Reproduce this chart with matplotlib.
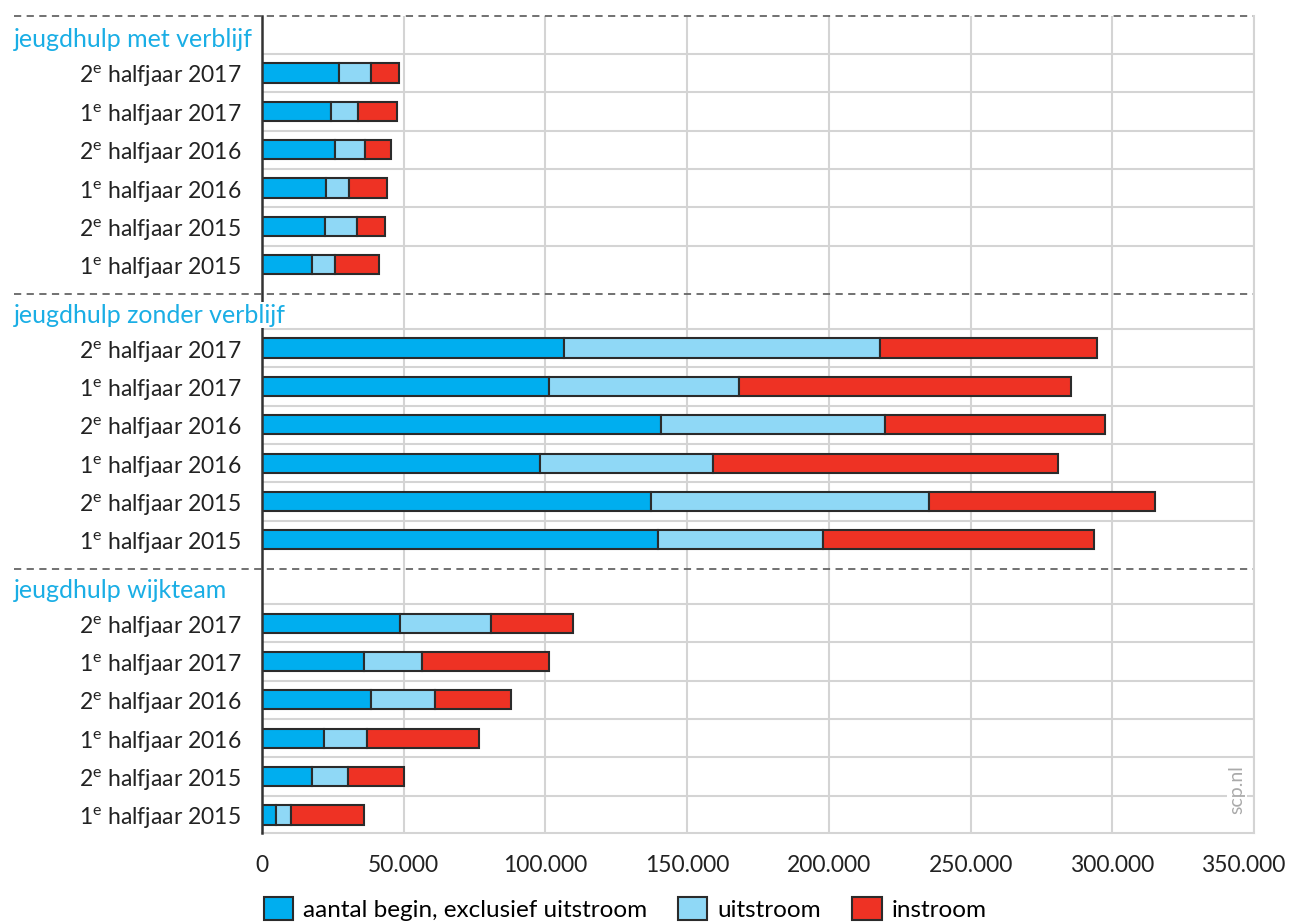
import matplotlib
matplotlib.use("Agg")
import matplotlib.pyplot as plt
from matplotlib.patches import Patch
from matplotlib.transforms import blended_transform_factory, ScaledTranslation

plt.rcParams['font.family'] = ['Lato', 'DejaVu Sans']
plt.rcParams['mathtext.default'] = 'regular'

# ---------------- data ----------------
groups = ["jeugdhulp met verblijf", "jeugdhulp zonder verblijf", "jeugdhulp wijkteam"]
periods = ["2$^{e}$ halfjaar 2017", "1$^{e}$ halfjaar 2017",
           "2$^{e}$ halfjaar 2016", "1$^{e}$ halfjaar 2016",
           "2$^{e}$ halfjaar 2015", "1$^{e}$ halfjaar 2015"]
series = ["aantal begin, exclusief uitstroom", "uitstroom", "instroom"]

begin_met = [27000, 24300, 25900, 22700, 22100, 17600]
uit_met = [11500, 9500, 10300, 8100, 11300, 8200]
in_met = [10000, 14000, 9400, 13400, 10000, 15600]

begin_zonder = [106600, 101300, 140700, 98200, 137400, 139600]
uit_zonder = [111500, 67100, 79200, 60900, 98000, 58300]
in_zonder = [76600, 116900, 77500, 121900, 79800, 95700]

begin_wijk = [48700, 36000, 38500, 21800, 17600, 4800]
uit_wijk = [32100, 20500, 22700, 15100, 12700, 5400]
in_wijk = [29100, 44900, 26600, 39500, 19700, 25800]

xticks = [0, 50000, 100000, 150000, 200000, 250000, 300000, 350000]

# ---------------- styling ----------------
colors = ["#00aeef", "#8fd8f6", "#ee3224"]
edge = "#2b2b2b"
header_color = "#1aaee5"
grid_color = "#d4d4d4"
FS = 16.5
FS_HEAD = 18
FS_LEG = 17.5

W, H = 1292, 922
fig = plt.figure(figsize=(W / 100, H / 100), dpi=100)
left_px, right_px, top_px, bot_px = 262, 1254, 16, 833
ax = fig.add_axes([left_px / W, 1 - bot_px / H, (right_px - left_px) / W, (bot_px - top_px) / H])

data = [(begin_met, uit_met, in_met),
        (begin_zonder, uit_zonder, in_zonder),
        (begin_wijk, uit_wijk, in_wijk)]

group_pitch = 7.17
first_bar_off = 0.86
dash_off = 5.86 + 0.76
y_top = -0.625
y_bot = 2 * group_pitch + first_bar_off + 5 + 0.47

ax.set_xlim(0, 350000)
ax.set_ylim(y_bot, y_top)
blend = blended_transform_factory(ax.transAxes, ax.transData)
x_left = (14 - left_px) / (right_px - left_px)

bar_h = 0.5
ytick_pos, ytick_lab = [], []
for g, (gname, (b, u, i)) in enumerate(zip(groups, data)):
    h = g * group_pitch
    ys = [h + first_bar_off + k for k in range(len(periods))]
    for y in ys:
        ax.axhline(y - 0.5, color=grid_color, lw=1.5, zorder=0)
    ax.barh(ys, b, height=bar_h, color=colors[0], edgecolor=edge, lw=1.5, zorder=3)
    ax.barh(ys, u, left=b, height=bar_h, color=colors[1], edgecolor=edge, lw=1.5, zorder=3)
    left2 = [bb + uu for bb, uu in zip(b, u)]
    ax.barh(ys, i, left=left2, height=bar_h, color=colors[2], edgecolor=edge, lw=1.5, zorder=3)
    ytick_pos += ys
    ytick_lab += periods
    ax.text(x_left, h, gname, color=header_color,
            fontsize=FS_HEAD, ha="left", va="center", transform=blend,
            bbox=dict(facecolor="white", edgecolor="none", pad=1), zorder=6)
    ydash = y_top if g == 0 else h - (group_pitch - dash_off)
    ax.plot([x_left, 1.0], [ydash, ydash], transform=blend,
            color="#666666", lw=1.3, ls=(0, (4, 3)), clip_on=False, zorder=2)

ax.set_yticks(ytick_pos)
ax.set_yticklabels(ytick_lab, fontsize=FS, color="#222222")
ax.tick_params(axis="y", length=0, pad=15)

ax.set_xticks(xticks)
ax.set_xticklabels([f"{v:,}".replace(",", ".") for v in xticks], fontsize=FS, color="#222222")
ax.tick_params(axis="x", length=0, pad=16)
last = ax.get_xticklabels()[-1]
last.set_transform(last.get_transform() + ScaledTranslation(-11 / 100, 0, fig.dpi_scale_trans))
for x in xticks[1:]:
    ax.axvline(x, color=grid_color, lw=1.5, zorder=0)

ax.spines["top"].set_visible(False)
ax.spines["right"].set_color(grid_color)
ax.spines["right"].set_linewidth(1.5)
ax.spines["bottom"].set_color(grid_color)
ax.spines["bottom"].set_linewidth(1.5)
ax.spines["left"].set_color("#333333")
ax.spines["left"].set_linewidth(1.8)
ax.spines["left"].set_zorder(4)

ax.text(1237 / W, 1 - 790 / H, "scp.nl", rotation=90, color="#aaaaaa", fontsize=14,
        ha="center", va="center", transform=fig.transFigure,
        bbox=dict(facecolor="white", edgecolor="none", pad=1), zorder=7)

handles = [Patch(facecolor=c, edgecolor=edge, lw=1.5) for c in colors]
fig.legend(handles, series, loc="center left", bbox_to_anchor=(254 / W, 1 - 909 / H),
           ncol=3, frameon=False, fontsize=FS_LEG, handlelength=1.2, handleheight=1.1,
           handletextpad=0.4, columnspacing=1.3, borderaxespad=0)

fig.savefig("out.png", dpi=100, facecolor="white")
